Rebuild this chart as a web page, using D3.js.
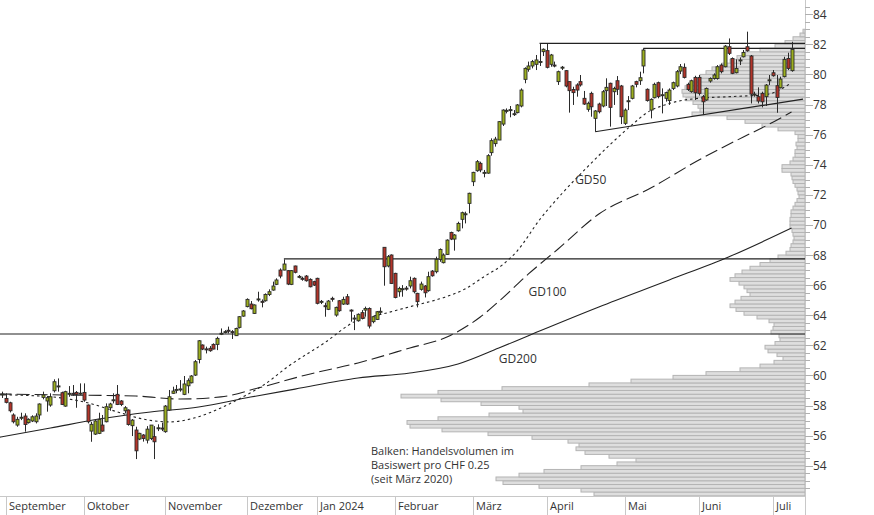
<!DOCTYPE html>
<html><head><meta charset="utf-8">
<script src="https://cdn.jsdelivr.net/npm/d3@7"></script>
<style>
html,body{margin:0;padding:0;background:#fff;}
svg{display:block;font-family:"Open Sans",sans-serif;}
</style></head><body>
<svg id="chart" width="874" height="515"></svg>
<script>
// ---------- DATA ----------
const monthLabels = ["September","Oktober","November","Dezember","Jan 2024","Februar","März","April","Mai","Juni","Juli"];
const monthStart  = [0,21,43,65,84,105,126,146,167,187,207]; // trading-day index of first day of month
const firstIndex = -1; // first candle (31 Aug) sits one day before September

const opens = [
 58.74,58.47,58.18,57.37,56.70,57.17,57.30,56.86,56.97,56.92,57.37,58.54,58.30,58.03,58.98,59.25,58.85,57.96,58.79,58.81,58.87,58.78,
 58.87,58.03,56.30,56.10,56.15,56.70,56.92,57.85,58.34,58.74,58.30,57.65,57.70,56.66,56.37,55.77,56.04,55.70,55.81,55.93,56.48,56.50,
 56.26,57.70,58.81,59.05,59.07,58.74,59.31,59.51,60.02,61.06,62.02,61.76,61.80,62.06,62.06,62.78,62.87,63.00,62.91,62.64,63.19,63.94,
 64.57,64.74,64.12,65.05,64.92,64.96,65.38,65.67,66.05,67.00,67.00,66.96,66.05,67.27,66.55,66.45,66.60,66.38,66.23,
 66.45,64.90,64.63,64.39,65.12,64.01,64.96,64.74,65.23,64.34,63.79,63.63,64.17,64.34,64.45,63.57,63.72,64.23,68.51,67.27,68.00,
 66.78,65.56,65.73,65.80,65.94,66.45,65.45,65.72,65.94,65.63,66.93,66.89,67.71,67.49,68.04,69.50,69.06,69.61,70.37,70.72,71.43,
 72.87,73.60,74.09,73.47,73.44,74.80,75.40,75.64,76.70,77.59,77.63,77.37,77.46,77.90,79.67,80.34,80.56,80.67,80.84,81.51,
 81.58,80.67,80.62,79.52,80.46,80.25,79.52,79.00,79.30,79.52,78.41,77.68,78.74,77.08,78.03,77.90,78.92,79.41,78.85,79.58,79.23,
 76.75,78.23,78.41,79.52,79.58,80.56,79.01,77.63,78.45,79.45,78.63,78.41,78.26,79.07,79.23,80.22,80.47,79.34,78.85,79.80,
 79.80,78.52,78.30,79.56,79.73,79.73,80.62,80.51,81.84,81.06,80.11,80.93,81.17,81.84,81.22,78.65,78.52,78.74,78.52,79.60,
 80.11,79.25,79.11,79.85,81.06,80.25
];
const highs = [
 58.92,58.81,58.25,57.48,57.25,57.52,57.48,57.15,57.35,57.48,58.14,58.92,58.63,58.81,59.74,59.80,58.92,58.98,59.29,59.36,58.96,59.47,
 59.47,58.07,56.92,57.03,57.52,57.37,58.14,58.18,58.81,59.36,58.36,57.96,57.74,57.10,56.59,56.19,56.10,56.63,56.70,56.63,56.75,56.86,
 58.03,59.03,59.25,59.36,59.69,59.96,59.80,60.02,61.02,62.35,62.06,61.91,61.95,62.13,62.57,63.12,63.01,63.24,63.01,63.17,63.94,64.34,
 65.12,64.94,64.72,65.56,65.05,65.45,65.72,66.23,66.45,67.11,67.71,67.00,67.00,67.29,66.67,66.56,66.67,66.45,66.29,
 66.49,65.01,64.83,65.01,65.23,64.57,65.01,65.23,65.41,64.39,64.01,64.12,64.34,64.57,64.52,63.94,64.28,64.52,68.51,68.00,68.04,
 66.82,65.89,66.00,65.94,66.56,66.51,65.49,66.23,66.00,66.89,67.00,67.89,68.44,68.11,69.04,69.55,69.39,70.21,70.88,70.88,72.14,
 73.53,74.31,74.20,73.65,74.70,75.75,75.85,76.90,77.68,77.74,77.90,77.63,78.03,79.07,80.47,80.85,80.96,81.29,82.06,81.73,
 82.02,81.36,80.85,80.25,80.56,80.29,79.52,79.18,79.41,79.96,78.90,78.19,78.85,77.63,78.12,78.96,79.74,79.45,79.18,79.89,79.30,
 77.74,78.56,79.30,79.58,80.18,81.73,79.07,78.41,79.45,79.52,79.07,78.85,79.07,79.52,80.29,80.69,80.73,79.45,79.65,79.91,
 79.96,78.63,79.13,79.80,80.07,80.62,80.73,81.95,82.39,81.13,81.00,81.13,81.62,82.84,81.29,78.85,79.14,78.85,79.36,79.96,
 80.29,79.96,79.85,81.17,81.44,82.17
];
const lows = [
 58.50,58.14,57.54,56.81,56.59,57.03,56.26,56.80,56.90,56.81,57.08,58.41,57.59,57.92,58.87,58.92,58.03,57.92,58.58,58.65,57.85,58.70,
 58.25,56.81,55.59,56.04,56.10,56.26,56.88,57.65,58.14,58.03,57.96,57.48,56.66,55.97,54.44,55.70,55.60,55.48,55.70,54.44,56.30,56.30,
 56.19,57.65,58.78,58.81,58.92,58.69,58.81,59.47,59.96,60.80,61.68,61.46,61.57,61.73,61.68,62.68,62.79,62.79,62.42,62.62,63.12,63.90,
 64.52,64.39,64.08,64.90,64.52,64.90,65.27,65.63,66.00,66.45,66.98,66.00,66.00,66.78,66.45,66.29,66.23,65.85,65.94,
 64.72,64.74,63.90,64.34,64.90,63.90,64.23,64.68,64.68,63.57,63.01,63.57,63.72,63.90,63.12,63.46,63.68,64.08,65.96,67.18,66.07,
 65.12,65.23,65.23,65.63,65.78,65.45,64.52,65.63,65.18,65.56,66.56,66.78,67.55,67.44,68.00,68.99,68.29,69.55,69.77,70.10,70.77,
 72.58,73.53,73.50,73.16,73.40,74.60,75.20,75.64,76.57,77.41,77.15,77.24,77.41,77.81,79.41,80.18,80.40,80.29,80.56,81.22,
 80.40,80.51,80.47,79.30,80.29,79.14,77.46,77.97,78.52,79.19,77.97,77.52,77.19,76.19,77.41,77.81,77.90,76.53,77.97,78.63,76.70,
 76.64,77.63,78.34,79.14,79.30,80.07,78.19,77.08,78.41,78.41,77.41,78.19,77.97,78.96,79.14,80.02,79.73,78.90,78.78,78.30,
 78.60,77.30,78.25,79.45,79.65,79.65,80.07,80.47,81.29,80.02,80.07,80.62,81.13,81.51,78.07,78.52,78.07,77.81,77.90,79.29,
 79.85,77.45,79.07,79.80,80.29,80.18
];
const closes = [
 58.76,58.21,57.65,56.92,57.08,57.22,56.74,57.08,57.25,57.30,58.10,58.70,58.52,58.58,59.58,59.30,58.07,58.92,58.81,58.79,58.74,58.82,
 58.36,56.92,56.75,56.97,57.08,56.30,57.92,58.10,58.38,58.07,58.07,57.85,56.74,57.03,54.99,56.15,55.81,56.43,56.70,55.59,56.52,56.48,
 57.96,58.58,58.96,59.07,59.10,59.43,59.65,59.96,60.91,62.30,61.75,61.72,61.64,61.75,62.46,62.80,62.91,62.98,62.88,63.12,63.90,64.28,
 65.05,64.43,64.68,65.08,64.90,65.38,65.56,65.94,66.34,66.60,67.40,66.07,66.96,66.85,66.58,66.43,66.29,65.89,66.00,
 64.79,64.92,64.61,64.94,65.10,64.52,64.30,65.05,64.74,64.32,63.81,64.06,63.79,64.45,63.28,63.90,64.23,64.26,67.22,67.89,66.11,
 65.18,65.78,65.76,65.78,66.29,65.56,64.90,66.07,65.49,66.56,66.62,67.71,68.37,68.00,68.99,69.06,69.33,70.10,70.81,70.74,72.10,
 73.49,74.20,73.65,73.49,74.60,75.60,75.70,76.86,77.63,77.61,77.66,77.39,77.97,78.96,80.40,80.56,80.85,80.96,80.86,81.67,
 80.47,81.29,80.60,80.18,80.48,79.23,78.92,78.79,78.96,79.30,78.03,78.08,77.85,77.57,77.52,78.85,79.14,77.81,79.07,79.01,77.19,
 77.63,78.25,79.23,79.34,79.78,81.62,78.26,78.34,79.34,78.52,78.65,78.79,78.96,79.45,80.18,80.51,79.80,79.00,79.58,78.78,
 78.74,78.18,79.07,79.73,79.96,80.51,80.18,81.88,81.40,80.07,80.40,80.96,81.46,81.57,78.69,78.69,78.23,78.18,79.29,79.64,
 79.91,78.47,79.69,81.00,80.40,81.66
];

// moving averages, read at sample days: [day index, value]
const gd50 = [[-2,58.72],[12,58.58],[22,58.18],[30,57.58],[38,57.05],[44,56.91],[51,57.18],[58,57.84],[64,58.58],[70,59.44],[76,60.57],
 [86,62.17],[94,63.56],[102,64.10],[110,64.63],[118,65.16],[124,65.76],[129,66.56],[134,67.35],[138,68.28],[144,70.34],[150,72.07],
 [157,73.87],[163,75.33],[169,76.66],[173,77.46],[178,77.99],[186,78.39],[196,78.53],[205,78.65],[212,79.45]];
const gd100 = [[-2,58.77],[15,58.70],[35,58.63],[47,58.43],[58,58.57],[68,59.16],[81,60.03],[95,60.83],[109,61.82],[119,62.55],
 [128,63.88],[134,65.14],[141,66.74],[149,68.40],[160,70.72],[174,72.45],[187,74.31],[199,75.84],[205,76.57],[212,77.50]];
const gd200 = [[-2,55.88],[12,56.50],[25,57.10],[39,57.57],[52,57.90],[66,58.56],[78,59.09],[95,59.83],[109,60.16],[122,60.76],
 [133,61.82],[144,62.95],[160,64.55],[179,66.34],[195,67.87],[212,69.79]];
const maLabels = [{t:"GD50",i:153.6,v:73.0},{t:"GD100",i:141,v:65.6},{t:"GD200",i:133,v:61.15}];

// horizontal resistance lines: starting day index, price level
const resistanceFrom  = [75, 144, 172];
const resistanceLevel = [67.74, 82.06, 81.73];
const fullLevel = 62.75;
const supportLine = [[159,76.19],[215.1,78.36]];

// volume profile: one bar per CHF 0.25 bucket starting at CHF 52.00
const profileBase = 52, profileStep = 0.25;
const profileVolume = [
 211,224,266,302,309,286,261,224,188,169,196,220,229,226,237,273,317,363,395,398,
 367,316,282,286,324,364,404,367,303,216,174,132,99,65,45,31,22,28,37,40,
 30,25,26,34,32,31,36,48,61,69,75,70,64,55,58,61,66,75,70,63,
 55,45,35,27,19,15,14,12,11,12,13,15,15,15,14,14,12,10,8,6,
 7,8,10,12,13,14,23,23,15,12,10,10,8,9,7,7,10,27,43,60,
 78,113,105,107,112,119,122,123,120,115,110,105,99,93,83,75,68,60,45,30,
 20,12,5,2
];
const yTickValues = [54,56,58,60,62,64,66,68,70,72,74,76,78,80,82,84];
const noteLines = ["Balken: Handelsvolumen im","Basiswert pro CHF 0.25","(seit März 2020)"];

// ---------- CHART ----------
const W = 874, H = 515, plotRight = 805, plotBottom = 496;
const svg = d3.select("#chart");
const x = d3.scaleLinear().domain([0, 207]).range([6, 773]);
const y = d3.scaleLinear().domain([52, 84]).range([495.8, 14.2]);
const vx = d3.scaleLinear().domain([0, 400]).range([plotRight, plotRight - 400]);

svg.append("defs").append("clipPath").attr("id","plot")
  .append("rect").attr("x",0).attr("y",0).attr("width",plotRight).attr("height",plotBottom);
const g = svg.append("g").attr("clip-path","url(#plot)");

// volume profile
g.append("g").selectAll("rect").data(profileVolume).join("rect")
  .attr("x", d => vx(d))
  .attr("y", (d,b) => y(profileBase + (b+1)*profileStep))
  .attr("width", d => plotRight - vx(d))
  .attr("height", (d,b) => y(profileBase + b*profileStep) - y(profileBase + (b+1)*profileStep))
  .attr("fill","#dedede").attr("stroke","#b4b4b4").attr("stroke-width",1);

// horizontal lines
g.append("line").attr("x1",0).attr("x2",plotRight)
  .attr("y1",y(fullLevel)).attr("y2",y(fullLevel)).attr("stroke","#222").attr("stroke-width",1.2);
resistanceLevel.forEach((lv,k) => {
  g.append("line").attr("x1",x(resistanceFrom[k])).attr("x2",plotRight)
   .attr("y1",y(lv)).attr("y2",y(lv)).attr("stroke","#222").attr("stroke-width",1.2);
});
g.append("line").attr("x1",x(supportLine[0][0])).attr("y1",y(supportLine[0][1]))
  .attr("x2",x(supportLine[1][0])).attr("y2",y(supportLine[1][1]))
  .attr("stroke","#222").attr("stroke-width",1.2);

// moving averages
const line = d3.line().x(d => x(d[0])).y(d => y(d[1])).curve(d3.curveMonotoneX);
g.append("path").attr("d", line(gd50)).attr("fill","none").attr("stroke","#222")
  .attr("stroke-width",1.1).attr("stroke-dasharray","2.5,3");
g.append("path").attr("d", line(gd100)).attr("fill","none").attr("stroke","#222")
  .attr("stroke-width",1.1).attr("stroke-dasharray","13,5");
g.append("path").attr("d", line(gd200)).attr("fill","none").attr("stroke","#222")
  .attr("stroke-width",1.1);

// candles
const candles = opens.map((o,k) => ({i:k+firstIndex, o, h:highs[k], l:lows[k], c:closes[k]}));
const cg = g.append("g");
cg.selectAll("line").data(candles).join("line")
  .attr("x1", d => Math.round(x(d.i))+0.5).attr("x2", d => Math.round(x(d.i))+0.5)
  .attr("y1", d => y(d.h)).attr("y2", d => y(d.l))
  .attr("stroke","#2a2a2a").attr("stroke-width",1);
cg.selectAll("rect").data(candles).join("rect")
  .attr("x", d => Math.round(x(d.i))-1)
  .attr("y", d => y(Math.max(d.o,d.c)))
  .attr("width", 3)
  .attr("height", d => Math.max(1, y(Math.min(d.o,d.c)) - y(Math.max(d.o,d.c))))
  .attr("fill", d => d.c >= d.o ? "#9caf1e" : "#b4352a")
  .attr("stroke","#2a2a2a").attr("stroke-width",0.9);

// MA labels
svg.append("g").selectAll("text").data(maLabels).join("text")
  .attr("x", d => x(d.i)).attr("y", d => y(d.v))
  .attr("dominant-baseline","central")
  .attr("font-size",12).attr("fill","#333").text(d => d.t);

// note
svg.append("g").selectAll("text").data(noteLines).join("text")
  .attr("x",371).attr("y",(d,k) => 455 + k*14)
  .attr("font-size",11).attr("fill","#333").text(d => d);

// axes
const axisColor = "#c8c8c8";
svg.append("line").attr("x1",0).attr("x2",plotRight).attr("y1",plotBottom+0.5).attr("y2",plotBottom+0.5)
  .attr("stroke",axisColor);
svg.append("line").attr("x1",plotRight+0.5).attr("x2",plotRight+0.5).attr("y1",0).attr("y2",H)
  .attr("stroke",axisColor);
// month separators and labels
const mg = svg.append("g");
monthStart.forEach((ms,k) => {
  const xm = Math.round(x(ms)) + 0.5;
  mg.append("line").attr("x1",xm).attr("x2",xm).attr("y1",plotBottom).attr("y2",H).attr("stroke",axisColor);
  mg.append("text").attr("x",xm+2.5).attr("y",510).attr("font-size",11).attr("fill","#333").text(monthLabels[k]);
});
// y ticks
const minorTicks = d3.range(52.5, 85, 0.5);
svg.append("g").selectAll("line").data(minorTicks).join("line")
  .attr("x1",plotRight).attr("x2", d => plotRight + (d % 2 === 0 ? 8 : 5))
  .attr("y1", d => Math.round(y(d))+0.5).attr("y2", d => Math.round(y(d))+0.5)
  .attr("stroke","#b0b0b0");
svg.append("g").selectAll("text").data(yTickValues).join("text")
  .attr("x",813).attr("y", d => y(d)).attr("dominant-baseline","central")
  .attr("font-size",12).attr("fill","#333").text(d => d);
</script>
</body></html>
